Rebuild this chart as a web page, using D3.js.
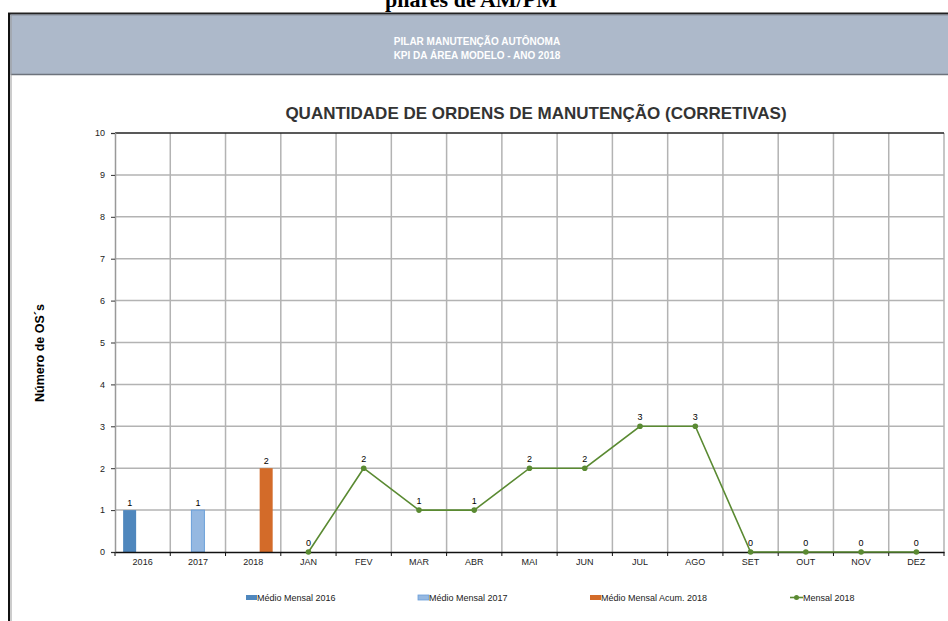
<!DOCTYPE html>
<html>
<head>
<meta charset="utf-8">
<script src="https://cdn.jsdelivr.net/npm/d3@7"></script>
<style>
  body { margin: 0; background: #fff; }
  svg { display: block; font-family: "Liberation Sans", Arial, sans-serif; }
</style>
</head>
<body>
<svg id="chart" width="948" height="621"></svg>
<script>
// categories on the x axis
const categories = ["2016", "2017", "2018", "JAN", "FEV", "MAR", "ABR", "MAI", "JUN", "JUL", "AGO", "SET", "OUT", "NOV", "DEZ"];
// bar series (one bar each)
const barNames = ["Médio Mensal 2016", "Médio Mensal 2017", "Médio Mensal Acum. 2018"];
const barCats = ["2016", "2017", "2018"];
const barValues = [1, 1, 2];
// line series
const months = ["JAN", "FEV", "MAR", "ABR", "MAI", "JUN", "JUL", "AGO", "SET", "OUT", "NOV", "DEZ"];
const mensal2018 = [0, 2, 1, 1, 2, 2, 3, 3, 0, 0, 0, 0];
const lineName = "Mensal 2018";
const yTicks = [0, 1, 2, 3, 4, 5, 6, 7, 8, 9, 10];

const barColors = ["#4f87bd", "#95b8e1", "#d36b29"];
const barStroke = [null, "#6a9fd9", null];
const green = "#5a8a32";

const svg = d3.select("#chart");

// page heading, cut off at the top edge as in the source
svg.append("text")
    .attr("x", 471).attr("y", 7)
    .attr("text-anchor", "middle")
    .style("font-family", "'Liberation Serif', 'Times New Roman', serif")
    .style("font-weight", "bold")
    .style("font-size", "22px")
    .text("pilares de AM/PM");

// header band
svg.append("rect").attr("x", 9).attr("y", 13).attr("width", 939).attr("height", 62).attr("fill", "#adb9ca");
svg.append("line").attr("x1", 8).attr("x2", 948).attr("y1", 13.5).attr("y2", 13.5).attr("stroke", "#222").attr("stroke-width", 2);
svg.append("line").attr("x1", 11).attr("x2", 948).attr("y1", 15).attr("y2", 15).attr("stroke", "#8a909a").attr("stroke-width", 1);
svg.append("line").attr("x1", 11).attr("x2", 948).attr("y1", 74.5).attr("y2", 74.5).attr("stroke", "#6d737c").attr("stroke-width", 1.5);
svg.append("line").attr("x1", 9).attr("x2", 9).attr("y1", 13).attr("y2", 621).attr("stroke", "#111").attr("stroke-width", 2);
svg.append("line").attr("x1", 11).attr("x2", 11).attr("y1", 15).attr("y2", 621).attr("stroke", "#999").attr("stroke-width", 1);

const head = svg.append("g")
    .attr("fill", "#fff")
    .style("font-family", "'Liberation Sans Narrow', 'Arial Narrow', sans-serif")
    .style("font-weight", "bold")
    .style("font-size", "10px")
    .attr("text-anchor", "middle");
head.append("text").attr("x", 477).attr("y", 45).text("PILAR MANUTENÇÃO AUTÔNOMA");
head.append("text").attr("x", 477).attr("y", 59).text("KPI DA ÁREA MODELO - ANO 2018");

// plot area
const plot = { left: 115, right: 944, top: 133, bottom: 552 };

const x = d3.scaleBand().domain(categories).range([plot.left, plot.right]).padding(0);
const y = d3.scaleLinear().domain([0, 10]).range([plot.bottom, plot.top]);
const xs = d3.scaleBand().domain(barNames).range([-19.5, 19.5]).padding(0);

svg.append("text")
    .attr("x", 536).attr("y", 119)
    .attr("text-anchor", "middle")
    .style("font-weight", "bold").style("font-size", "17px").attr("fill", "#333")
    .text("QUANTIDADE DE ORDENS DE MANUTENÇÃO (CORRETIVAS)");

// grid
const grid = svg.append("g");
grid.selectAll(".hg").data(yTicks.slice(1, -1)).enter().append("line")
    .attr("x1", plot.left).attr("x2", plot.right)
    .attr("y1", d => y(d)).attr("y2", d => y(d))
    .attr("stroke", "#b3b3b3").attr("stroke-width", 1.5);
grid.selectAll(".vg").data(categories.slice(1)).enter().append("line")
    .attr("x1", d => x(d)).attr("x2", d => x(d))
    .attr("y1", plot.top).attr("y2", plot.bottom)
    .attr("stroke", "#b3b3b3").attr("stroke-width", 1.5);
grid.append("line").attr("x1", plot.right).attr("x2", plot.right)
    .attr("y1", plot.top).attr("y2", plot.bottom).attr("stroke", "#b3b3b3").attr("stroke-width", 1.5);
grid.append("line").attr("x1", plot.left).attr("x2", plot.right)
    .attr("y1", plot.top).attr("y2", plot.top).attr("stroke", "#222").attr("stroke-width", 1.5);

// y axis
const yAxis = svg.append("g")
    .attr("transform", "translate(" + plot.left + ",0)")
    .call(d3.axisLeft(y).tickValues(yTicks).tickSize(4).tickPadding(6));
yAxis.select(".domain").attr("stroke", "#999").attr("stroke-width", 1.5);
yAxis.selectAll(".tick line").attr("stroke", "#333");
yAxis.selectAll("text").style("font-size", "9px").attr("fill", "#222");

svg.append("text")
    .attr("transform", "translate(44,353) rotate(-90)")
    .attr("text-anchor", "middle")
    .style("font-weight", "bold").style("font-size", "12.5px")
    .text("Número de OS´s");

// bars
svg.append("g").selectAll("rect").data(barValues).enter().append("rect")
    .attr("x", (d, i) => x(barCats[i]) + x.bandwidth() / 2 + xs(barNames[i]))
    .attr("width", xs.bandwidth())
    .attr("y", d => y(d))
    .attr("height", d => y(0) - y(d))
    .attr("fill", (d, i) => barColors[i])
    .attr("stroke", (d, i) => barStroke[i])
    .attr("stroke-width", 1);

svg.append("g").selectAll("text").data(barValues).enter().append("text")
    .attr("x", (d, i) => x(barCats[i]) + x.bandwidth() / 2 + xs(barNames[i]) + xs.bandwidth() / 2)
    .attr("y", d => y(d) - 4)
    .attr("text-anchor", "middle")
    .style("font-size", "9px")
    .text(d => d);

// x axis
const xAxis = svg.append("g")
    .attr("transform", "translate(0," + plot.bottom + ")")
    .call(d3.axisBottom(x).tickSize(0).tickPadding(7));
xAxis.select(".domain").attr("stroke", "#111").attr("stroke-width", 1.5);
xAxis.selectAll("text").style("font-size", "9px").attr("fill", "#222");
svg.append("g").selectAll("line").data(categories.concat(["end"])).enter().append("line")
    .attr("x1", (d, i) => i < categories.length ? x(d) : plot.right)
    .attr("x2", (d, i) => i < categories.length ? x(d) : plot.right)
    .attr("y1", plot.bottom).attr("y2", plot.bottom + 4)
    .attr("stroke", "#111").attr("stroke-width", 1);

// line series
const cx = m => x(m) + x.bandwidth() / 2;
const line = d3.line().x((d, i) => cx(months[i])).y(d => y(d));
svg.append("path").datum(mensal2018)
    .attr("d", line).attr("fill", "none").attr("stroke", green).attr("stroke-width", 1.6);
svg.append("g").selectAll("circle").data(mensal2018).enter().append("circle")
    .attr("cx", (d, i) => cx(months[i])).attr("cy", d => y(d)).attr("r", 2.8).attr("fill", green);
svg.append("g").selectAll("text").data(mensal2018).enter().append("text")
    .attr("x", (d, i) => cx(months[i])).attr("y", d => y(d) - 6)
    .attr("text-anchor", "middle")
    .style("font-size", "9px")
    .text(d => d);

// legend
const legend = svg.append("g").style("font-size", "9px").attr("fill", "#222");
const legX = [246, 418, 590];
barNames.forEach((n, i) => {
    legend.append("rect").attr("x", legX[i]).attr("y", 595).attr("width", 11).attr("height", 5)
        .attr("fill", barColors[i]).attr("stroke", barStroke[i]).attr("stroke-width", 0.8);
    legend.append("text").attr("x", legX[i] + 11).attr("y", 601).text(n);
});
legend.append("line").attr("x1", 790).attr("x2", 803).attr("y1", 597.5).attr("y2", 597.5)
    .attr("stroke", green).attr("stroke-width", 1.6);
legend.append("circle").attr("cx", 796.5).attr("cy", 597.5).attr("r", 2.5).attr("fill", green);
legend.append("text").attr("x", 803).attr("y", 601).text(lineName);
</script>
</body>
</html>
